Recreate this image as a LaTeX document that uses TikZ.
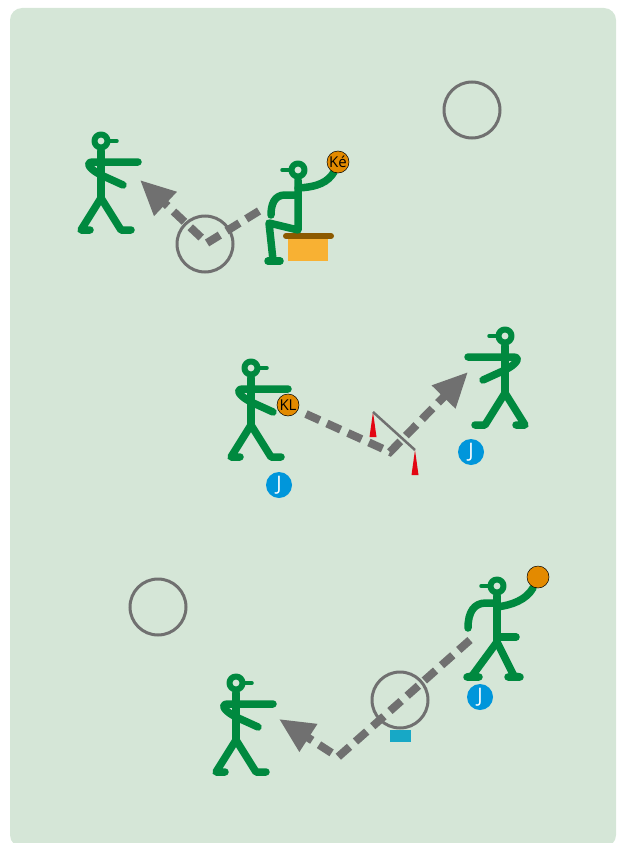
\documentclass[tikz,border=0pt]{standalone}
\usepackage{fontspec}
\setsansfont{Open Sans}
\usetikzlibrary{arrows.meta}

\definecolor{fieldGreen}{HTML}{D5E6D7}
\definecolor{manGreen}{HTML}{00893F}
\definecolor{passGray}{HTML}{707070}
\definecolor{ballOrange}{HTML}{E38A00}
\definecolor{jBlue}{HTML}{0096DB}
\definecolor{markCyan}{HTML}{17A8C6}
\definecolor{seatBrown}{HTML}{8C5A00}
\definecolor{boxOrange}{HTML}{F8B133}
\definecolor{flagRed}{HTML}{E30613}

\tikzset{
  walker/.pic={
    \draw[man, line width=6pt] (0,0) circle (6.5);
    \draw[man, line width=3.5pt] (8,0) -- (16,0);
    \draw[man] (0,10) -- (0,57);
    \draw[man] (37,21) -- (-8,21) .. controls (-16,21) and (-12,28) .. (0,34) -- (22,44);
    \draw[man] (0,57) -- (-20,89) -- (-11,89);
    \draw[man] (0,57) -- (20,89) -- (30,89);
  }
}

\begin{document}
\begin{tikzpicture}[
    x=1pt, y=-1pt,
    man/.style={draw=manGreen, line width=7.5pt, line cap=round, line join=round},
    pass/.style={draw=passGray, line width=8pt, dash pattern=on 15pt off 8pt,
      -{Triangle[length=35pt, width=31pt]}},
    ring/.style={draw=passGray, line width=3pt},
    ball/.style={circle, draw=black, line width=0.5pt, fill=ballOrange, inner sep=0pt,
      minimum size=22pt, font=\sffamily\fontsize{15}{15}\selectfont},
    jdot/.style={circle, fill=jBlue, text=white, inner sep=0pt, minimum size=26pt,
      font=\sffamily\fontsize{20}{20}\selectfont},
    flag/.style={fill=flagRed},
]
\useasboundingbox (0,0) rectangle (622,843);
\fill[fieldGreen, rounded corners=12pt] (10,8) rectangle (616,847);

% passes
\coordinate (keFrom) at (259,211);
\coordinate (keBounce) at (207,243);
\coordinate (keTo) at (140,180);
\coordinate (klFrom) at (306,414);
\coordinate (klBounce) at (390,452);
\coordinate (klTo) at (468,372);
\coordinate (thFrom) at (470,640);
\coordinate (thBounce) at (338,757);
\coordinate (thTo) at (279,719);
\draw[pass] (keFrom) -- (keBounce) -- (keTo);
\draw[pass] (klFrom) -- (klBounce) -- (klTo);
\draw[pass] (thFrom) -- (thBounce) -- (thTo);

% rings and marks
\draw[ring] (205,244) circle (28);
\draw[ring] (472,110) circle (28);
\draw[ring] (158,607) circle (28);
\fill[markCyan] (390,730) rectangle (411,742);
\draw[ring] (400,700) circle (28);

% gate
\coordinate (gateL) at (373,412);
\coordinate (gateR) at (415,450);
\fill[flag] (gateL) -- (369.5,437) -- (376.5,437) -- cycle;
\fill[flag] (gateR) -- (411.5,475) -- (418.5,475) -- cycle;
\draw[passGray, line width=2.5pt] (gateL) -- (gateR);

% walkers
\pic at (101,141) {walker};
\pic at (251,368) {walker};
\pic at (236,683) {walker};
\pic[xscale=-1] at (505,336) {walker};

% seated thrower
\fill[boxOrange] (288,238) rectangle (328,261);
\draw[seatBrown, line width=6pt, line cap=round] (286,236) -- (331,236);
\draw[man, line width=6pt] (298,170) circle (6.5);
\draw[man, line width=3.5pt] (282,170) -- (290,170);
\draw[man] (298,180) -- (298,230) -- (269,223) -- (273,260);
\draw[man] (268,261) -- (280,261);
\draw[man] (298,188) .. controls (318,187) and (328,182) .. (334,172);
\draw[man] (298,195) -- (285,195) .. controls (274,195) and (271,205) .. (271,215);
\node[ball] (ke) at (338,162) {Ké};

% standing thrower
\draw[man, line width=6pt] (497,586) circle (6.5);
\draw[man, line width=3.5pt] (481,586) -- (489,586);
\draw[man] (497,596) -- (497,642);
\draw[man] (497,642) -- (472,676) -- (467,677) -- (479,677);
\draw[man] (497,642) -- (514,676) -- (520,677) -- (508,677);
\draw[man] (497,637) -- (516,637);
\draw[man] (497,607) .. controls (512,605) and (526,600) .. (533,588);
\draw[man] (497,603) -- (486,603) .. controls (474,603) and (468,612) .. (468,628);
\node[ball] (tb) at (538,577) {};

% KL
\node[ball] (kl) at (288,405) {KL};

% J
\node[jdot] (jA) at (279,485) {J};
\node[jdot] (jB) at (471,452) {J};
\node[jdot] (jC) at (480,697) {J};
\end{tikzpicture}
\end{document}
